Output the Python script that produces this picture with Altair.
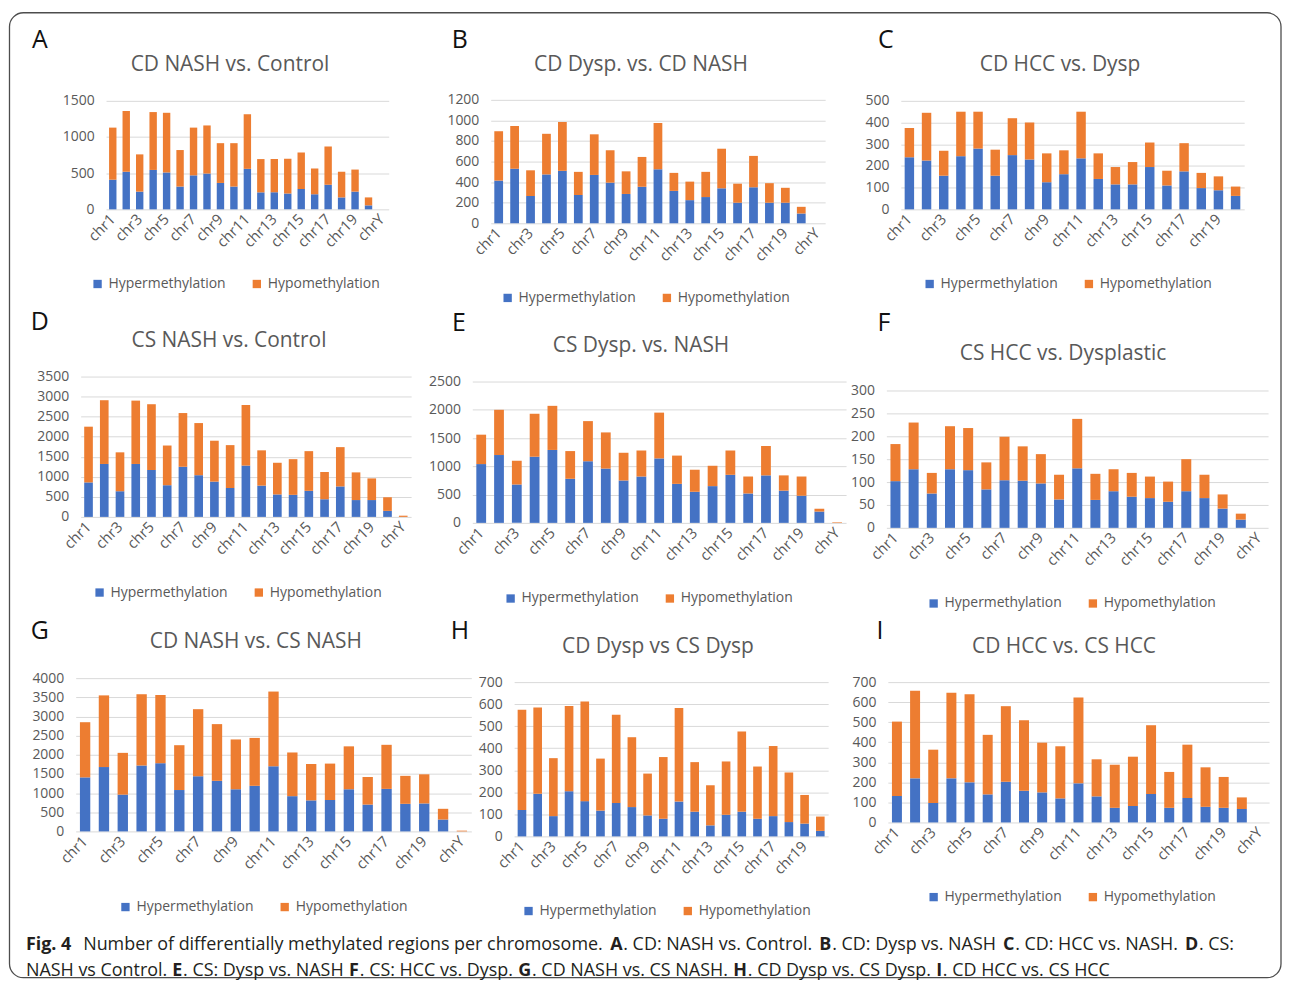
import altair as alt
import pandas as pd

OFF = 8  # page margin: page coordinates -> chart coordinates
W, H = 1274, 973
FONT = "Open Sans"
GRAY = "#595959"
GRID = "#d9d9d9"

CHR21 = ["chr1", "chr2", "chr3", "chr4", "chr5", "chr6", "chr7", "chr8", "chr9", "chr10",
         "chr11", "chr12", "chr13", "chr14", "chr15", "chr16", "chr17", "chr18", "chr19",
         "chrX", "chrY"]
CHR20 = CHR21[:20]

TYPES = ["Hypermethylation", "Hypomethylation"]
COLORS = ["#4472C4", "#ED7D31"]

# ---- values (hyper = blue, hypo = orange) ----
A_HYPER = [410, 520, 245, 545, 510, 315, 470, 495, 365, 315, 560, 235, 235, 220, 280, 210, 340, 165, 245, 55, 0]
A_HYPO = [720, 840, 515, 800, 825, 505, 660, 665, 550, 600, 755, 460, 460, 480, 505, 355, 530, 355, 305, 110, 0]

B_HYPER = [415, 530, 265, 475, 510, 275, 470, 395, 285, 355, 525, 315, 225, 255, 340, 200, 350, 200, 200, 95, 0]
B_HYPO = [480, 415, 250, 395, 475, 225, 395, 315, 220, 290, 450, 175, 180, 245, 385, 185, 305, 190, 145, 65, 0]

C_HYPER = [240, 225, 155, 245, 280, 155, 250, 230, 125, 162, 235, 140, 115, 115, 195, 110, 175, 98, 88, 62]
C_HYPO = [135, 220, 115, 205, 170, 120, 170, 170, 133, 110, 215, 118, 80, 103, 113, 68, 130, 70, 64, 43]

D_HYPER = [860, 1320, 640, 1320, 1170, 790, 1250, 1040, 880, 720, 1280, 780, 560, 550, 650, 440, 760, 420, 420, 150, 0]
D_HYPO = [1390, 1590, 970, 1580, 1640, 990, 1340, 1300, 1020, 1070, 1510, 880, 790, 890, 990, 680, 980, 690, 540, 340, 30]

E_HYPER = [1040, 1200, 680, 1170, 1290, 780, 1090, 960, 750, 820, 1140, 690, 550, 650, 850, 520, 840, 570, 480, 200, 0]
E_HYPO = [520, 800, 420, 760, 780, 490, 710, 640, 490, 460, 810, 500, 390, 360, 430, 300, 520, 270, 340, 50, 10]

F_HYPER = [102, 128, 75, 128, 126, 84, 104, 103, 97, 62, 130, 61, 80, 68, 65, 57, 80, 65, 42, 18, 0]
F_HYPO = [81, 102, 45, 94, 92, 59, 95, 75, 64, 54, 108, 57, 48, 52, 47, 44, 70, 51, 31, 13, 0]

G_HYPER = [1410, 1680, 960, 1720, 1780, 1080, 1440, 1320, 1100, 1190, 1700, 920, 810, 820, 1100, 700, 1110, 720, 730, 310, 0]
G_HYPO = [1440, 1870, 1090, 1860, 1780, 1170, 1750, 1480, 1300, 1250, 1950, 1140, 950, 950, 1120, 720, 1150, 730, 760, 280, 20]

H_HYPER = [120, 193, 92, 205, 160, 117, 152, 133, 95, 80, 158, 112, 50, 98, 112, 80, 92, 65, 58, 25]
H_HYPO = [455, 392, 263, 387, 452, 236, 400, 317, 190, 280, 424, 225, 182, 242, 364, 237, 318, 225, 130, 65]

I_HYPER = [132, 220, 97, 220, 200, 140, 203, 158, 150, 120, 195, 130, 73, 82, 142, 73, 122, 78, 73, 67, 0]
I_HYPO = [371, 437, 266, 427, 440, 297, 377, 352, 248, 260, 428, 185, 215, 246, 343, 179, 266, 197, 154, 58, 0]

LETTERS = ["A", "B", "C", "D", "E", "F", "G", "H", "I"]
TITLES = ["CD NASH vs. Control", "CD Dysp. vs. CD NASH", "CD HCC vs. Dysp",
          "CS NASH vs. Control", "CS Dysp. vs. NASH", "CS HCC vs. Dysplastic",
          "CD NASH vs. CS NASH", "CD Dysp vs CS Dysp", "CD HCC vs. CS HCC"]
CATS = [CHR21, CHR21, CHR20, CHR21, CHR21, CHR21, CHR21, CHR20, CHR21]
HYPERS = [A_HYPER, B_HYPER, C_HYPER, D_HYPER, E_HYPER, F_HYPER, G_HYPER, H_HYPER, I_HYPER]
HYPOS = [A_HYPO, B_HYPO, C_HYPO, D_HYPO, E_HYPO, F_HYPO, G_HYPO, H_HYPO, I_HYPO]
YMAX = [1500, 1200, 500, 3500, 2500, 300, 4000, 700, 700]
YSTEP = [500, 200, 100, 500, 500, 50, 500, 100, 100]

CAPTION_1 = [("Fig. 4", True), ("Number of differentially methylated regions per chromosome.", False),
             ("A", True), (". CD: NASH vs. Control.", False), ("B", True), (". CD: Dysp vs. NASH", False),
             ("C", True), (". CD: HCC vs. NASH.", False), ("D", True), (". CS:", False)]
CAPTION_2 = [("NASH vs Control.", False), ("E", True), (". CS: Dysp vs. NASH", False),
             ("F", True), (". CS: HCC vs. Dysp.", False), ("G", True), (". CD NASH vs. CS NASH.", False),
             ("H", True), (". CD Dysp vs. CS Dysp.", False), ("I", True), (". CD HCC vs. CS HCC", False)]

# ---- layout (page pixel coordinates) ----
PLOT = [(106.5, 390.5, 99, 208), (493, 829, 98, 222), (905, 1250, 99, 208),
        (81, 413, 376, 517), (474.5, 850, 381, 523), (890.5, 1274, 390, 528),
        (76, 473.5, 679, 833), (516.5, 832, 683, 838), (892, 1275, 683, 824)]
LETTER_POS = [(40, 38), (462, 38), (890, 38), (40, 321), (461, 322), (888, 322),
              (40, 632), (462, 632), (884, 632)]
TITLE_POS = [(231, 63), (644, 63), (1065, 63), (230, 340), (644, 345), (1068, 353),
             (257, 643), (661, 648), (1069, 648)]
LEGEND_POS = [(91, 284), (503, 298), (927, 284), (93, 594), (506, 600), (931, 605),
              (119, 910), (524, 914), (931, 900)]
CAP_X0, CAP_X1 = 26, 1240
CAP_Y = [947, 973]
CAP_SIZE = 18

# approximate advance widths (em) for caption text layout
NORMAL_W = {' ': 0.26, '.': 0.266, ':': 0.266, 'A': 0.633, 'B': 0.648, 'C': 0.631, 'D': 0.729,
            'E': 0.556, 'F': 0.516, 'G': 0.728, 'H': 0.738, 'I': 0.279, 'N': 0.76, 'S': 0.55,
            'a': 0.556, 'b': 0.613, 'c': 0.476, 'd': 0.613, 'e': 0.561, 'f': 0.339, 'g': 0.548,
            'h': 0.614, 'i': 0.253, 'l': 0.253, 'm': 0.93, 'n': 0.614, 'o': 0.604, 'p': 0.613,
            'r': 0.408, 's': 0.477, 't': 0.353, 'u': 0.614, 'v': 0.501, 'y': 0.502, '4': 0.572}
BOLD_W = {'F': 0.58, 'i': 0.29, 'g': 0.58, '.': 0.28, ' ': 0.26, '4': 0.59, 'A': 0.70,
          'B': 0.69, 'C': 0.65, 'D': 0.75, 'E': 0.57, 'G': 0.74, 'H': 0.78, 'I': 0.34}


def text_width(s, bold):
    table = BOLD_W if bold else NORMAL_W
    return sum(table.get(ch, 0.57) for ch in s) * CAP_SIZE


def layout_line(segments, justify):
    widths = [text_width(s, b) for s, b in segments]
    gaps = []
    for k, (s, b) in enumerate(segments):
        if k == 0:
            gaps.append(0.0)
        elif s.startswith("."):
            gaps.append(0.5)
        elif k == 1 and segments[0][0].startswith("Fig"):
            gaps.append(2 * NORMAL_W[' '] * CAP_SIZE)
        else:
            gaps.append(NORMAL_W[' '] * CAP_SIZE)
    natural = sum(widths) + sum(gaps)
    extra = 0.0
    n_space = sum(1 for g in gaps if g > 1)
    if justify and n_space and natural < CAP_X1 - CAP_X0:
        extra = (CAP_X1 - CAP_X0 - natural) / n_space
    xs, x = [], CAP_X0
    for w, g in zip(widths, gaps):
        x += g + (extra if g > 1 else 0)
        xs.append(x)
        x += w
    return xs


DUMMY = pd.DataFrame({"d": [0]})


def panel(i):
    cats = CATS[i]
    rows = []
    for c, h, o in zip(cats, HYPERS[i], HYPOS[i]):
        rows.append({"chr": c, "type": TYPES[0], "value": h, "ord": 0})
        rows.append({"chr": c, "type": TYPES[1], "value": o, "ord": 1})
    df = pd.DataFrame(rows)
    x0, x1, yt, yb = [v - OFF for v in PLOT[i]]
    lx, ly = LEGEND_POS[i]
    ticks = list(range(0, YMAX[i] + 1, YSTEP[i]))
    return alt.Chart(df).mark_bar().encode(
        x=alt.X("chr:N", sort=cats,
                scale=alt.Scale(domain=cats, range=[x0, x1], paddingInner=0.45, paddingOuter=0.225),
                axis=alt.Axis(orient="bottom", offset=yb - H, values=cats[::2], labelAngle=-45,
                              labelAlign="right", labelBaseline="middle", labelPadding=7,
                              ticks=False, tickSize=0, domain=False, grid=False, title=None,
                              labelFont=FONT, labelFontSize=15, labelColor=GRAY,
                              labelOverlap=False)),
        y=alt.Y("value:Q", stack="zero",
                scale=alt.Scale(domain=[0, YMAX[i]], range=[yb, yt], nice=False, zero=True),
                axis=alt.Axis(orient="left", offset=-x0, values=ticks, format="d", grid=True,
                              gridColor=GRID, gridWidth=1, domain=False, ticks=False, tickSize=0,
                              labelPadding=12, title=None, labelFont=FONT, labelFontSize=14,
                              labelColor=GRAY)),
        color=alt.Color("type:N", scale=alt.Scale(domain=TYPES, range=COLORS),
                        legend=alt.Legend(orient="none", legendX=lx - OFF, legendY=ly - OFF - 8,
                                          direction="horizontal", title=None, symbolType="square",
                                          symbolSize=70, symbolStrokeWidth=0, labelFont=FONT,
                                          labelFontSize=14, labelColor=GRAY, labelOffset=4,
                                          columnPadding=24, padding=0)),
        order=alt.Order("ord:Q"),
    )


def txt(s, x, y, size, color, weight="normal", align="center"):
    return alt.Chart(DUMMY).mark_text(
        text=s, font=FONT, fontSize=size, color=color, fontWeight=weight,
        align=align, baseline="middle"
    ).encode(x=alt.value(x - OFF), y=alt.value(y - OFF))


layers = []
border = alt.Chart(DUMMY).mark_rect(
    fillOpacity=0, stroke="#4d4d4d", strokeWidth=1.3, cornerRadius=14
).encode(x=alt.value(1.5), x2=alt.value(1279), y=alt.value(2.5), y2=alt.value(972))
layers.append(border)

for i in range(9):
    layers.append(panel(i))

for i in range(9):
    lx, ly = LETTER_POS[i]
    layers.append(txt(LETTERS[i], lx, ly, 25, "#111111"))
    tx, ty = TITLE_POS[i]
    layers.append(txt(TITLES[i], tx, ty, 21, GRAY))

for line, justify, y in ((CAPTION_1, True, CAP_Y[0]), (CAPTION_2, False, CAP_Y[1])):
    xs = layout_line(line, justify)
    for (seg, bold), x in zip(line, xs):
        layers.append(txt(seg, x, y, CAP_SIZE, "#231f20", "bold" if bold else "normal", "left"))

chart = alt.layer(*layers).resolve_scale(
    x="independent", y="independent", color="independent"
).resolve_axis(x="independent", y="independent").resolve_legend(
    color="independent"
).properties(width=W, height=H, padding=0, background="white").configure_view(strokeWidth=0)

chart.save("out.html", embed_options={"renderer": "svg", "actions": False})
